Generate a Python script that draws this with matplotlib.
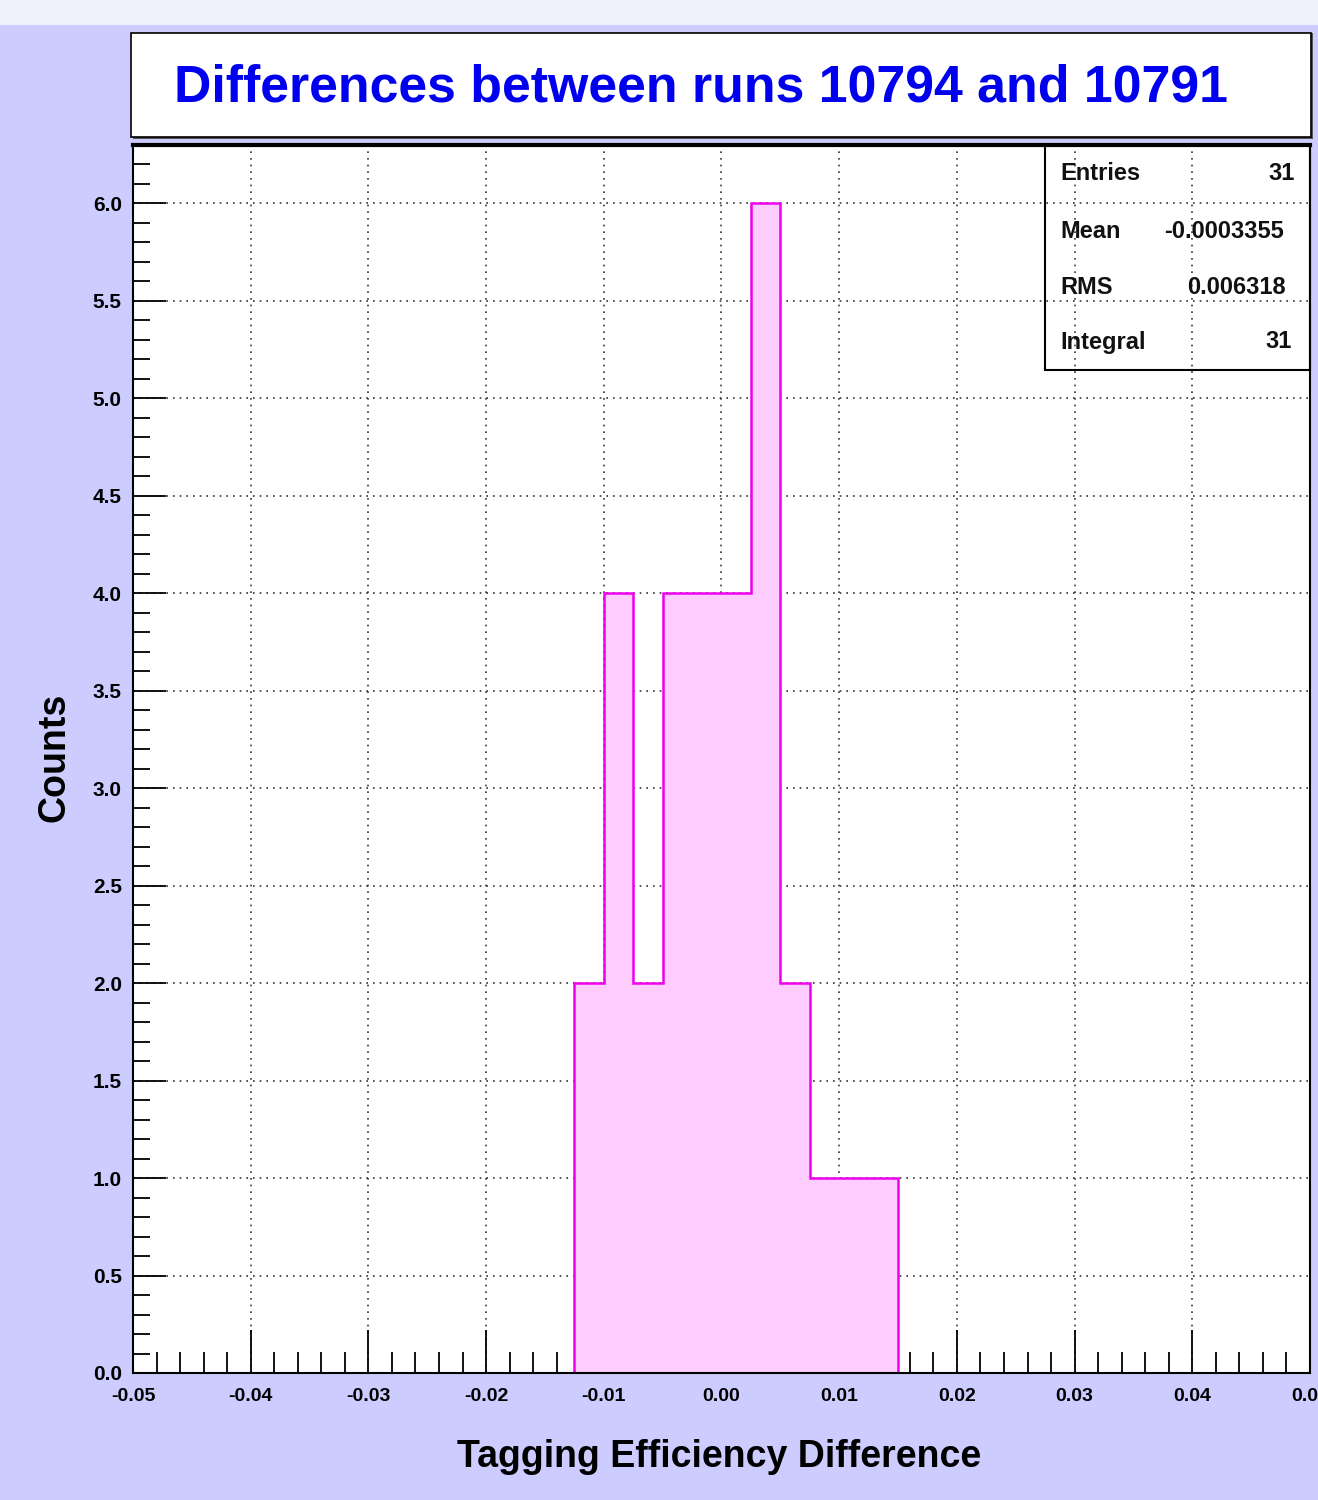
import numpy as np
import matplotlib
matplotlib.use("Agg")
import matplotlib.pyplot as plt
from matplotlib.patches import Rectangle
from matplotlib.ticker import MultipleLocator, FuncFormatter

# ---- data ----
bin_edges = [-0.0125, -0.0100, -0.0075, -0.0050, -0.0025, 0.0000,
             0.0025, 0.0050, 0.0075, 0.0100, 0.0125, 0.0150]
counts = [2, 4, 2, 4, 4, 4, 6, 2, 1, 1, 1]
title = "Differences between runs 10794 and 10791"
xlabel = "Tagging Efficiency Difference"
ylabel = "Counts"
stat_labels = ["Entries", "Mean", "RMS", "Integral"]
stat_values = ["31", "-0.0003355", "0.006318", "31"]

W, H = 1318, 1500
plt.rcParams['font.family'] = ['Liberation Sans', 'DejaVu Sans']
fig = plt.figure(figsize=(W / 100, H / 100), dpi=100)
fig.patch.set_facecolor('#CCCCFF')

def fx(px):
    return px / W

def fy(py):
    return 1 - py / H

# top banner strip
fig.patches.append(Rectangle((0, fy(25)), 1, 25 / H, transform=fig.transFigure,
                             facecolor='#F0F0FA', edgecolor='none', zorder=0))

# title box
fig.patches.append(Rectangle((fx(133), fy(139)), (1313 - 133) / W, (139 - 33) / H,
                             transform=fig.transFigure, facecolor='#555555',
                             edgecolor='none', zorder=1))
fig.patches.append(Rectangle((fx(131), fy(137)), (1311 - 131) / W, (137 - 33) / H,
                             transform=fig.transFigure, facecolor='white',
                             edgecolor='black', linewidth=1.2, zorder=2))
fig.text(fx(701), fy(88), title, ha='center', va='center', color='#0000EE',
         fontsize=37.4, fontweight='bold', zorder=3)

ax = fig.add_axes([fx(133), fy(1373), (1310 - 133) / W, (1373 - 145) / H])
ax.set_facecolor('white')
ax.set_xlim(-0.05, 0.05)
ax.set_ylim(0, 6.3)

ax.stairs(counts, bin_edges, fill=True, facecolor='#FFCCFF', edgecolor='none', zorder=1)
ax.stairs(counts, bin_edges, color='#EE00EE', linewidth=1.8, baseline=0, zorder=2)

ax.xaxis.set_major_locator(MultipleLocator(0.01))
ax.xaxis.set_minor_locator(MultipleLocator(0.002))
ax.yaxis.set_major_locator(MultipleLocator(0.5))
ax.yaxis.set_minor_locator(MultipleLocator(0.1))
ax.xaxis.set_major_formatter(FuncFormatter(lambda v, p: f"{np.round(v, 4) + 0.0:.2f}"))
ax.yaxis.set_major_formatter(FuncFormatter(lambda v, p: f"{v:.1f}"))

ax.grid(True, which='major', linestyle=(0, (1, 3)), color='#333333', linewidth=1.2, zorder=0)
ax.set_axisbelow(True)

ax.tick_params(axis='x', which='major', direction='in', length=31, width=1.3,
               labelsize=14, pad=11)
ax.tick_params(axis='x', which='minor', direction='in', length=15, width=1.3)
ax.tick_params(axis='y', which='major', direction='in', length=24, width=1.3,
               labelsize=15, pad=8)
ax.tick_params(axis='y', which='minor', direction='in', length=12, width=1.3)
for lab in ax.get_xticklabels() + ax.get_yticklabels():
    lab.set_fontweight('bold')

for side in ['left', 'bottom', 'right']:
    ax.spines[side].set_linewidth(1.5)
ax.spines['top'].set_linewidth(3)

# stats box
fig.patches.append(Rectangle((fx(1045), fy(370)), (1310 - 1045) / W, (370 - 145) / H,
                             transform=fig.transFigure, facecolor='none',
                             edgecolor='black', linewidth=1.5, zorder=5))
rows_y = [174, 231, 287, 342]
val_right = [1295, 1284, 1286, 1292]
for lab, val, yy, xr in zip(stat_labels, stat_values, rows_y, val_right):
    fig.text(fx(1060), fy(yy), lab, ha='left', va='center', fontsize=17,
             fontweight='bold', color='#111111', zorder=6)
    fig.text(fx(xr), fy(yy), val, ha='right', va='center', fontsize=17,
             fontweight='bold', color='#111111', zorder=6)

fig.text(fx(55), fy(757), ylabel, rotation=90, ha='center', va='center',
         fontsize=27, fontweight='bold')
fig.text(fx(719), fy(1457), xlabel, ha='center', va='center',
         fontsize=27, fontweight='bold')

fig.savefig('out.png', dpi=100, facecolor=fig.get_facecolor())
